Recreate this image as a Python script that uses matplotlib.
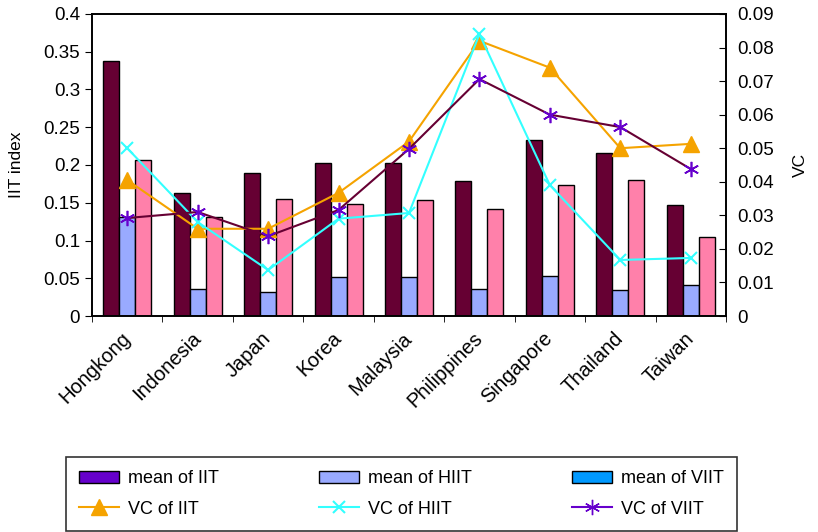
import matplotlib
matplotlib.use("Agg")
import matplotlib.pyplot as plt
import numpy as np
from matplotlib.patches import Patch
from matplotlib.lines import Line2D

plt.rcParams['font.family'] = ['Liberation Sans', 'DejaVu Sans']

countries = ['Hongkong', 'Indonesia', 'Japan', 'Korea', 'Malaysia',
             'Philippines', 'Singapore', 'Thailand', 'Taiwan']
mean_iit = [0.338, 0.163, 0.189, 0.203, 0.203, 0.179, 0.233, 0.216, 0.147]
mean_hiit = [0.131, 0.036, 0.032, 0.052, 0.052, 0.036, 0.053, 0.034, 0.041]
mean_viit = [0.207, 0.131, 0.155, 0.148, 0.154, 0.142, 0.174, 0.180, 0.105]
vc_iit = [0.0405, 0.026, 0.026, 0.0367, 0.052, 0.082, 0.074, 0.050, 0.0513]
vc_hiit = [0.050, 0.028, 0.0137, 0.029, 0.0307, 0.084, 0.039, 0.0167, 0.0173]
vc_viit = [0.0292, 0.031, 0.0238, 0.0316, 0.0498, 0.0706, 0.060, 0.0563, 0.0438]

fig = plt.figure(figsize=(8.18, 5.32), dpi=100)
ax = fig.add_axes([0.1125, 0.406, 0.775, 0.5677])
x = np.arange(len(countries))
w = 0.227
ax.bar(x - w, mean_iit, w, color='#660033', edgecolor='black', linewidth=1)
ax.bar(x, mean_hiit, w, color='#99AAFF', edgecolor='black', linewidth=1)
ax.bar(x + w, mean_viit, w, color='#FF80AA', edgecolor='black', linewidth=1)
ax.set_xlim(-0.5, len(countries) - 0.5)
ax.set_ylim(0, 0.4)
ax.set_yticks(np.arange(0, 0.41, 0.05))
ax.set_yticklabels(['0', '0.05', '0.1', '0.15', '0.2', '0.25', '0.3', '0.35', '0.4'])
ax.set_xticks(x)
ax.set_xticklabels(countries, rotation=45, ha='right', va='center',
                   rotation_mode='anchor')
ax.set_xticks(np.arange(-0.5, len(countries)), minor=True)
ax.tick_params(axis='x', which='major', length=0, pad=14, labelsize=14.5)
ax.tick_params(axis='x', which='minor', length=4)
ax.tick_params(axis='y', labelsize=13.5, length=5)
ax.set_ylabel('IIT index', fontsize=12.5, labelpad=14)

ax2 = ax.twinx()
ax2.plot(x, vc_iit, color='#F5A300', lw=1.5, marker='^', ms=11)
ax2.plot(x, vc_hiit, color='#33FFFF', lw=1.5, marker='x', ms=9, mew=1.5)
ax2.plot(x, vc_viit, color='#660033', lw=1.5, marker=(6, 2, 0), ms=11,
         mec='#6600CC', mew=1.2)
ax2.set_ylim(0, 0.09)
ax2.set_yticks(np.arange(0, 0.091, 0.01))
ax2.set_yticklabels(['0'] + ['%.2f' % v for v in np.arange(0.01, 0.091, 0.01)])
ax2.tick_params(axis='y', labelsize=13.5, length=5, direction='in', pad=8)
ax2.set_ylabel('VC', fontsize=12.5, labelpad=14)

for a in (ax, ax2):
    for s in a.spines.values():
        s.set_linewidth(1.2)

handles = [
    Patch(facecolor='#6600CC', edgecolor='black'),
    Line2D([], [], color='#F5A300', lw=1.5, marker='^', ms=11),
    Patch(facecolor='#99AAFF', edgecolor='black'),
    Line2D([], [], color='#33FFFF', lw=1.5, marker='x', ms=9, mew=1.5),
    Patch(facecolor='#0099FF', edgecolor='black'),
    Line2D([], [], color='#6600CC', lw=1.5, marker=(6, 2, 0), ms=11),
]
labels = ['mean of IIT', 'VC of IIT', 'mean of HIIT', 'VC of HIIT',
          'mean of VIIT', 'VC of VIIT']
leg = fig.legend(handles, labels, ncol=3, loc='center',
                 bbox_to_anchor=(0.491, 0.0714), fontsize=13, frameon=True,
                 fancybox=False, edgecolor='black', columnspacing=5.55,
                 handlelength=2.2, handletextpad=0.5, borderpad=0.75,
                 labelspacing=0.75)
leg.get_frame().set_linewidth(1.2)

fig.savefig('out.png', dpi=100)
